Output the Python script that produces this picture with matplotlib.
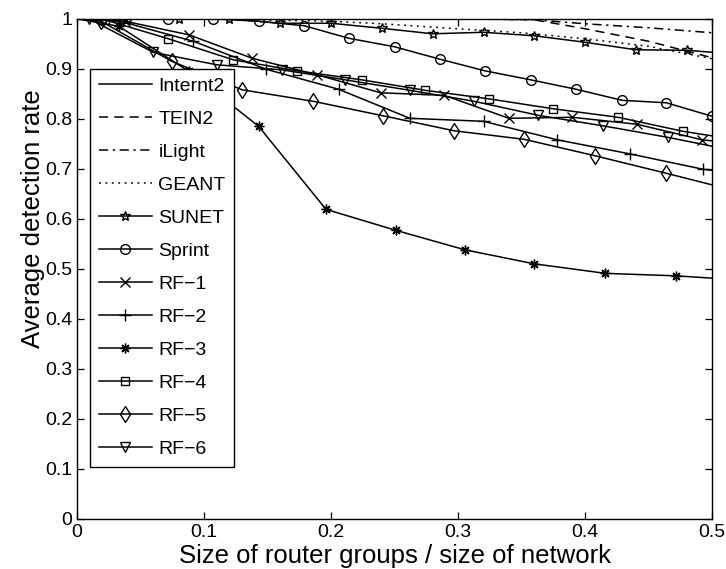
import matplotlib
matplotlib.use("Agg")
import matplotlib.pyplot as plt

plt.rcParams['font.family'] = ['Liberation Sans', 'DejaVu Sans']

# ---- data ----
labels = ["Internt2", "TEIN2", "iLight", "GEANT", "SUNET", "Sprint",
          "RF\u22121", "RF\u22122", "RF\u22123", "RF\u22124", "RF\u22125", "RF\u22126"]

internet2_x = [0.0, 0.1, 0.2, 0.3, 0.4, 0.5]
internet2_y = [1.0, 1.0, 1.0, 1.0, 1.0, 1.0]

tein2_x = [0.0, 0.1, 0.2, 0.3, 0.36, 0.4, 0.45, 0.5]
tein2_y = [1.0, 1.0, 1.0, 1.0, 0.998, 0.98, 0.955, 0.922]

ilight_x = [0.0, 0.1, 0.2, 0.3, 0.36, 0.4, 0.45, 0.5]
ilight_y = [1.0, 1.0, 1.0, 1.0, 0.998, 0.99, 0.982, 0.972]

geant_x = [0.0, 0.1, 0.2, 0.24, 0.3, 0.35, 0.4, 0.45, 0.5]
geant_y = [1.0, 1.0, 0.995, 0.99, 0.98, 0.972, 0.96, 0.945, 0.92]

sunet_x = [0.0, 0.04, 0.08, 0.12, 0.16, 0.20, 0.24, 0.28, 0.32, 0.36, 0.40, 0.44, 0.48, 0.52]
sunet_y = [1.0, 1.0, 1.0, 1.0, 0.991, 0.991, 0.981, 0.970, 0.973, 0.966, 0.953, 0.938, 0.937, 0.929]

sprint_x = [0.0, 0.0357, 0.0714, 0.107, 0.143, 0.179, 0.214, 0.25, 0.286, 0.321,
            0.357, 0.393, 0.429, 0.464, 0.5]
sprint_y = [1.0, 1.0, 1.0, 1.0, 0.995, 0.986, 0.961, 0.944, 0.919, 0.896,
            0.878, 0.859, 0.837, 0.832, 0.805]

rf1_x = [0.0, 0.038, 0.088, 0.138, 0.189, 0.239, 0.289, 0.34, 0.39, 0.441, 0.492, 0.542]
rf1_y = [1.0, 0.995, 0.968, 0.921, 0.888, 0.852, 0.847, 0.801, 0.803, 0.789, 0.758, 0.745]

rf2_x = [0.0, 0.034, 0.0916, 0.149, 0.206, 0.262, 0.32, 0.378, 0.435, 0.493, 0.551]
rf2_y = [1.0, 0.995, 0.955, 0.899, 0.859, 0.801, 0.795, 0.758, 0.730, 0.699, 0.683]

rf3_x = [0.0, 0.033, 0.088, 0.143, 0.196, 0.251, 0.3055, 0.36, 0.416, 0.4717, 0.527]
rf3_y = [1.0, 0.985, 0.895, 0.785, 0.619, 0.577, 0.538, 0.510, 0.491, 0.486, 0.477]

rf4_x = [0.0, 0.022, 0.072, 0.123, 0.173, 0.224, 0.274, 0.324, 0.375, 0.426, 0.477, 0.527]
rf4_y = [1.0, 0.998, 0.960, 0.918, 0.896, 0.878, 0.857, 0.840, 0.820, 0.803, 0.775, 0.755]

rf5_x = [0.0, 0.019, 0.0745, 0.13, 0.186, 0.241, 0.297, 0.352, 0.408, 0.464, 0.52]
rf5_y = [1.0, 0.995, 0.915, 0.858, 0.835, 0.806, 0.776, 0.759, 0.726, 0.691, 0.655]

rf6_x = [0.0, 0.0095, 0.060, 0.110, 0.161, 0.211, 0.262, 0.3126, 0.363, 0.414, 0.465, 0.516]
rf6_y = [1.0, 1.0, 0.933, 0.908, 0.898, 0.878, 0.857, 0.835, 0.807, 0.786, 0.763, 0.737]

xticks = [0, 0.1, 0.2, 0.3, 0.4, 0.5]
xtick_labels = ["0", "0.1", "0.2", "0.3", "0.4", "0.5"]
yticks = [0, 0.1, 0.2, 0.3, 0.4, 0.5, 0.6, 0.7, 0.8, 0.9, 1]
ytick_labels = ["0", "0.1", "0.2", "0.3", "0.4", "0.5", "0.6", "0.7", "0.8", "0.9", "1"]

# ---- figure ----
fig = plt.figure(figsize=(7.26, 5.69), dpi=100)
ax = fig.add_axes([0.106, 0.088, 0.875, 0.879])

lw = 1.1
ms = 7
common = dict(color='black', lw=lw, mec='black', mew=1.0, ms=ms)

ax.plot(internet2_x, internet2_y, '-', label=labels[0], **common)
ax.plot(tein2_x, tein2_y, linestyle=(0, (6, 4)), label=labels[1], **common)
ax.plot(ilight_x, ilight_y, linestyle=(0, (6, 3, 1.5, 3)), label=labels[2], **common)
ax.plot(geant_x, geant_y, linestyle=(0, (1.2, 3)), label=labels[3], **common)
ax.plot(sunet_x[1:], sunet_y[1:], '-', marker='*', mfc='none', label=labels[4], **common)
ax.plot(sprint_x[1:], sprint_y[1:], '-', marker='o', mfc='none', label=labels[5], **common)
ax.plot(rf1_x[1:], rf1_y[1:], '-', marker='x', label=labels[6], **common)
ax.plot(rf2_x[1:], rf2_y[1:], '-', marker='+', label=labels[7], **dict(common, ms=9))
ax.plot(rf3_x[1:], rf3_y[1:], '-', marker=(8, 2, 0), label=labels[8], **common)
ax.plot(rf4_x[1:], rf4_y[1:], '-', marker='s', mfc='none', label=labels[9], **dict(common, ms=6))
ax.plot(rf5_x[1:], rf5_y[1:], '-', marker='d', mfc='none', label=labels[10], **dict(common, ms=8))
ax.plot(rf6_x[1:], rf6_y[1:], '-', marker='v', mfc='none', label=labels[11], **common)

# connect first points to the value at x=0 (no marker there)
for xs, ys in [(sunet_x, sunet_y), (sprint_x, sprint_y), (rf1_x, rf1_y), (rf2_x, rf2_y),
               (rf3_x, rf3_y), (rf4_x, rf4_y), (rf5_x, rf5_y), (rf6_x, rf6_y)]:
    ax.plot(xs[:2], ys[:2], '-', color='black', lw=lw)

ax.set_xlim(0, 0.5)
ax.set_ylim(0, 1)
ax.set_xticks(xticks)
ax.set_xticklabels(xtick_labels)
ax.set_yticks(yticks)
ax.set_yticklabels(ytick_labels)
ax.tick_params(direction='in', top=True, right=True, length=5, width=0.9, labelsize=14)
for s in ax.spines.values():
    s.set_linewidth(1.0)

ax.set_xlabel("Size of router groups / size of network", fontsize=18.5, labelpad=2)
ax.set_ylabel("Average detection rate", fontsize=18.5)
ax.yaxis.set_label_coords(-0.05, 0.6)

leg = ax.legend(loc='upper left', bbox_to_anchor=(0.021, 0.9), fontsize=14,
                frameon=True, fancybox=False, framealpha=1, edgecolor='black',
                handlelength=2.7, handletextpad=0.35, labelspacing=0.79,
                borderpad=0.45, borderaxespad=0.0)
leg.get_frame().set_linewidth(1.0)
leg.set_zorder(10)

fig.savefig("out.png", dpi=100)
